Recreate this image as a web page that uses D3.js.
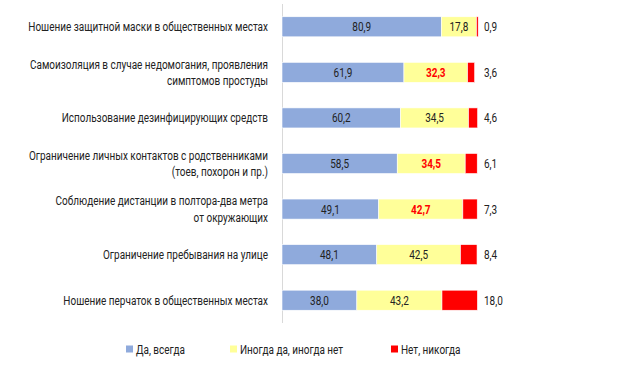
<!DOCTYPE html>
<html lang="ru">
<head>
<meta charset="UTF-8">
<script src="https://d3js.org/d3.v7.min.js"></script>
<style>
  body { margin: 0; background: #fff; }
  text { font-family: "Roboto", sans-serif; fill: #222; font-size: 13px; }
</style>
</head>
<body>
<svg class="chart"></svg>
<script>

const categories = [
  ["Ношение защитной маски в общественных местах"],
  ["Самоизоляция в случае недомогания, проявления", "симптомов простуды"],
  ["Использование дезинфицирующих средств"],
  ["Ограничение личных контактов с родственниками", "(тоев, похорон и пр.)"],
  ["Соблюдение дистанции в полтора-два метра", "от окружающих"],
  ["Ограничение пребывания на улице"],
  ["Ношение перчаток в общественных местах"]
]
const always    = [80.9, 61.9, 60.2, 58.5, 49.1, 48.1, 38.0]
const sometimes = [17.8, 32.3, 34.5, 34.5, 42.7, 42.5, 43.2]
const never     = [0.9, 3.6, 4.6, 6.1, 7.3, 8.4, 18.0]
// yellow labels shown in bold red
const highlight = [false, true, false, true, true, false, false]
const seriesNames = ["Да, всегда", "Иногда да, иногда нет", "Нет, никогда"]
const colors = ["#8FAADC", "#FFFF99", "#FF0000"]

const W = 639, H = 376
const margin = {top: 4, left: 282, right: 160, bottom: 53}
const width = W - margin.left - margin.right,
      height = H - margin.top - margin.bottom

const svg = d3.select(".chart").attr("width", W).attr("height", H)
const chart = svg.append("g")
    .attr("transform", `translate(${margin.left},${margin.top})`)

// the original font is a narrow one; squeeze Roboto horizontally to match
const probe = svg.append("text").text(categories[0][0])
const sx = 240 / probe.node().getComputedTextLength()
probe.remove()

const idx = d3.range(categories.length)
const y = d3.scaleBand().domain(idx).range([0, height]).paddingInner(0.56).paddingOuter(0.28)
const x = d3.scaleLinear().domain([0, 100]).range([0, 197])

const rows = idx.map(i => {
  const vals = [always[i], sometimes[i], never[i]]
  let acc = 0
  return vals.map((v, k) => { const s = {k, i, x0: acc, x1: acc + v, v}; acc += v; return s })
})

// category axis line
chart.append("line")
    .attr("x1", 0.5).attr("x2", 0.5)
    .attr("y1", 0).attr("y2", height)
    .attr("stroke", "#d9d9d9")

const bar = chart.selectAll(".bar")
  .data(rows)
  .join("g")
    .attr("class", "bar")
    .attr("transform", (d, i) => `translate(0,${y(i)})`)

bar.selectAll("rect")
  .data(d => d)
  .join("rect")
    .attr("x", d => x(d.x0))
    .attr("width", d => x(d.x1) - x(d.x0))
    .attr("height", y.bandwidth())
    .attr("fill", d => colors[d.k])
    .attr("stroke", "#fff")
    .attr("stroke-width", 0.6)

const fmt = v => v.toFixed(1).replace(".", ",")

bar.selectAll("text.val")
  .data(d => d)
  .join("text")
    .attr("class", "val")
    .attr("transform", d => `translate(${d.k < 2 ? x((d.x0 + d.x1) / 2) : x(100) + 5},${y.bandwidth() / 2}) scale(${sx},1)`)
    .attr("dy", "0.35em")
    .attr("text-anchor", d => d.k < 2 ? "middle" : "start")
    .style("fill", d => d.k === 1 && highlight[d.i] ? "#FF0000" : null)
    .style("font-weight", d => d.k === 1 && highlight[d.i] ? "bold" : "normal")
    .text(d => fmt(d.v))

// category labels
bar.append("text")
    .attr("class", "cat")
    .attr("transform", `translate(-14,0) scale(${sx},1)`)
    .attr("text-anchor", "end")
    .each(function(d, i) {
      const lines = categories[i]
      const t = d3.select(this)
      lines.forEach((ln, j) => {
        t.append("tspan")
          .attr("x", 0)
          .attr("y", y.bandwidth() / 2 + (j - (lines.length - 1) / 2) * 16.5)
          .attr("dy", "0.35em")
          .text(ln)
      })
    })

// legend
const legendX = [126, 230, 391]
const legend = svg.append("g").attr("class", "legend")
  .selectAll("g")
  .data(seriesNames)
  .join("g")
    .attr("transform", (d, i) => `translate(${legendX[i]},349)`)
legend.append("rect")
    .attr("x", 0).attr("y", -3.5)
    .attr("width", 7).attr("height", 7)
    .attr("fill", (d, i) => colors[i])
legend.append("text")
    .attr("transform", `translate(10,0) scale(${sx},1)`)
    .attr("dy", "0.35em")
    .text(d => d)

</script>
</body>
</html>
